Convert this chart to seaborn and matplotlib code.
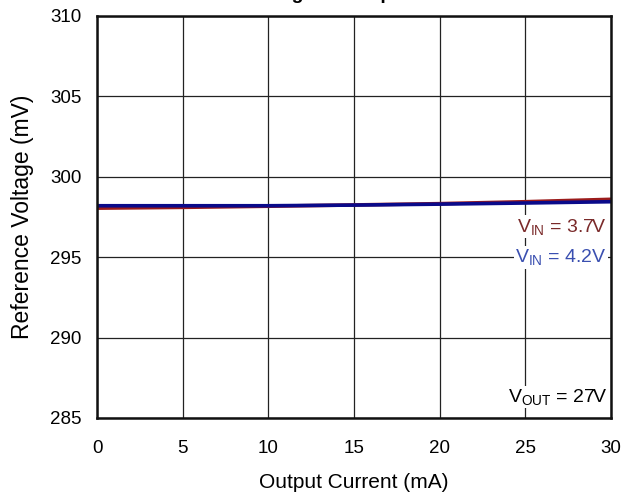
import matplotlib
matplotlib.use("Agg")
import matplotlib.pyplot as plt
import seaborn as sns
import pandas as pd

current_ma = [0, 5, 10, 15, 20, 25, 30]
vref_vin37 = [298.05, 298.1, 298.17, 298.25, 298.33, 298.45, 298.6]
vref_vin42 = [298.2, 298.2, 298.2, 298.24, 298.3, 298.37, 298.45]
series_names = ["VIN = 3.7V", "VIN = 4.2V"]
x_ticks = [0, 5, 10, 15, 20, 25, 30]
y_ticks = [285, 290, 295, 300, 305, 310]

sns.set_theme(style="white")
plt.rcParams['font.family'] = ['Liberation Sans', 'DejaVu Sans']
plt.rcParams['mathtext.fontset'] = 'custom'
plt.rcParams['mathtext.rm'] = 'Liberation Sans'
plt.rcParams['mathtext.it'] = 'Liberation Sans'

df = pd.DataFrame({
    "current": current_ma * 2,
    "vref": vref_vin37 + vref_vin42,
    "series": [series_names[0]] * len(current_ma) + [series_names[1]] * len(current_ma),
})

fig = plt.figure(figsize=(6.32, 4.97), dpi=100)
ax = fig.add_axes([97 / 632, 1 - 418 / 497, (611 - 97) / 632, (418 - 16) / 497])

sns.lineplot(data=df, x="current", y="vref", hue="series",
             palette={series_names[0]: "#9b1b1b", series_names[1]: "#0a0a8a"},
             linewidth=2.6, ax=ax, legend=False)

ax.set_xlim(0, 30)
ax.set_ylim(285, 310)
ax.set_xticks(x_ticks)
ax.set_yticks(y_ticks)
ax.grid(True, color="#222222", linewidth=0.9)
for s in ax.spines.values():
    s.set_color("#111111")
    s.set_linewidth(1.8)
ax.tick_params(axis='x', labelsize=13.5, pad=16, length=0, colors="black")
ax.tick_params(axis='y', labelsize=13.5, pad=11, length=0, colors="black")
ax.set_xlabel("Output Current (mA)", fontsize=15, labelpad=11, color="black")
ax.set_ylabel("Reference Voltage (mV)", fontsize=16.5, labelpad=12, color="black")

bbox = dict(facecolor="white", edgecolor="none", pad=1.0)
ax.text(29.75, 296.9, r"$\mathregular{V_{IN}}$ = 3.7V", ha="right", va="center",
        fontsize=14, color="#7a2a2a", bbox=bbox)
ax.text(29.75, 295.0, r"$\mathregular{V_{IN}}$ = 4.2V", ha="right", va="center",
        fontsize=14, color="#3a4fb0", bbox=bbox)
ax.text(29.75, 286.3, r"$\mathregular{V_{OUT}}$ = 27V", ha="right", va="center",
        fontsize=14, color="black", bbox=bbox)

fig.text(0.5, 1.012, "Reference Voltage vs Output Current", ha="center", va="center",
         fontsize=14, fontweight="bold", color="black")

fig.savefig("out.png", dpi=100)
